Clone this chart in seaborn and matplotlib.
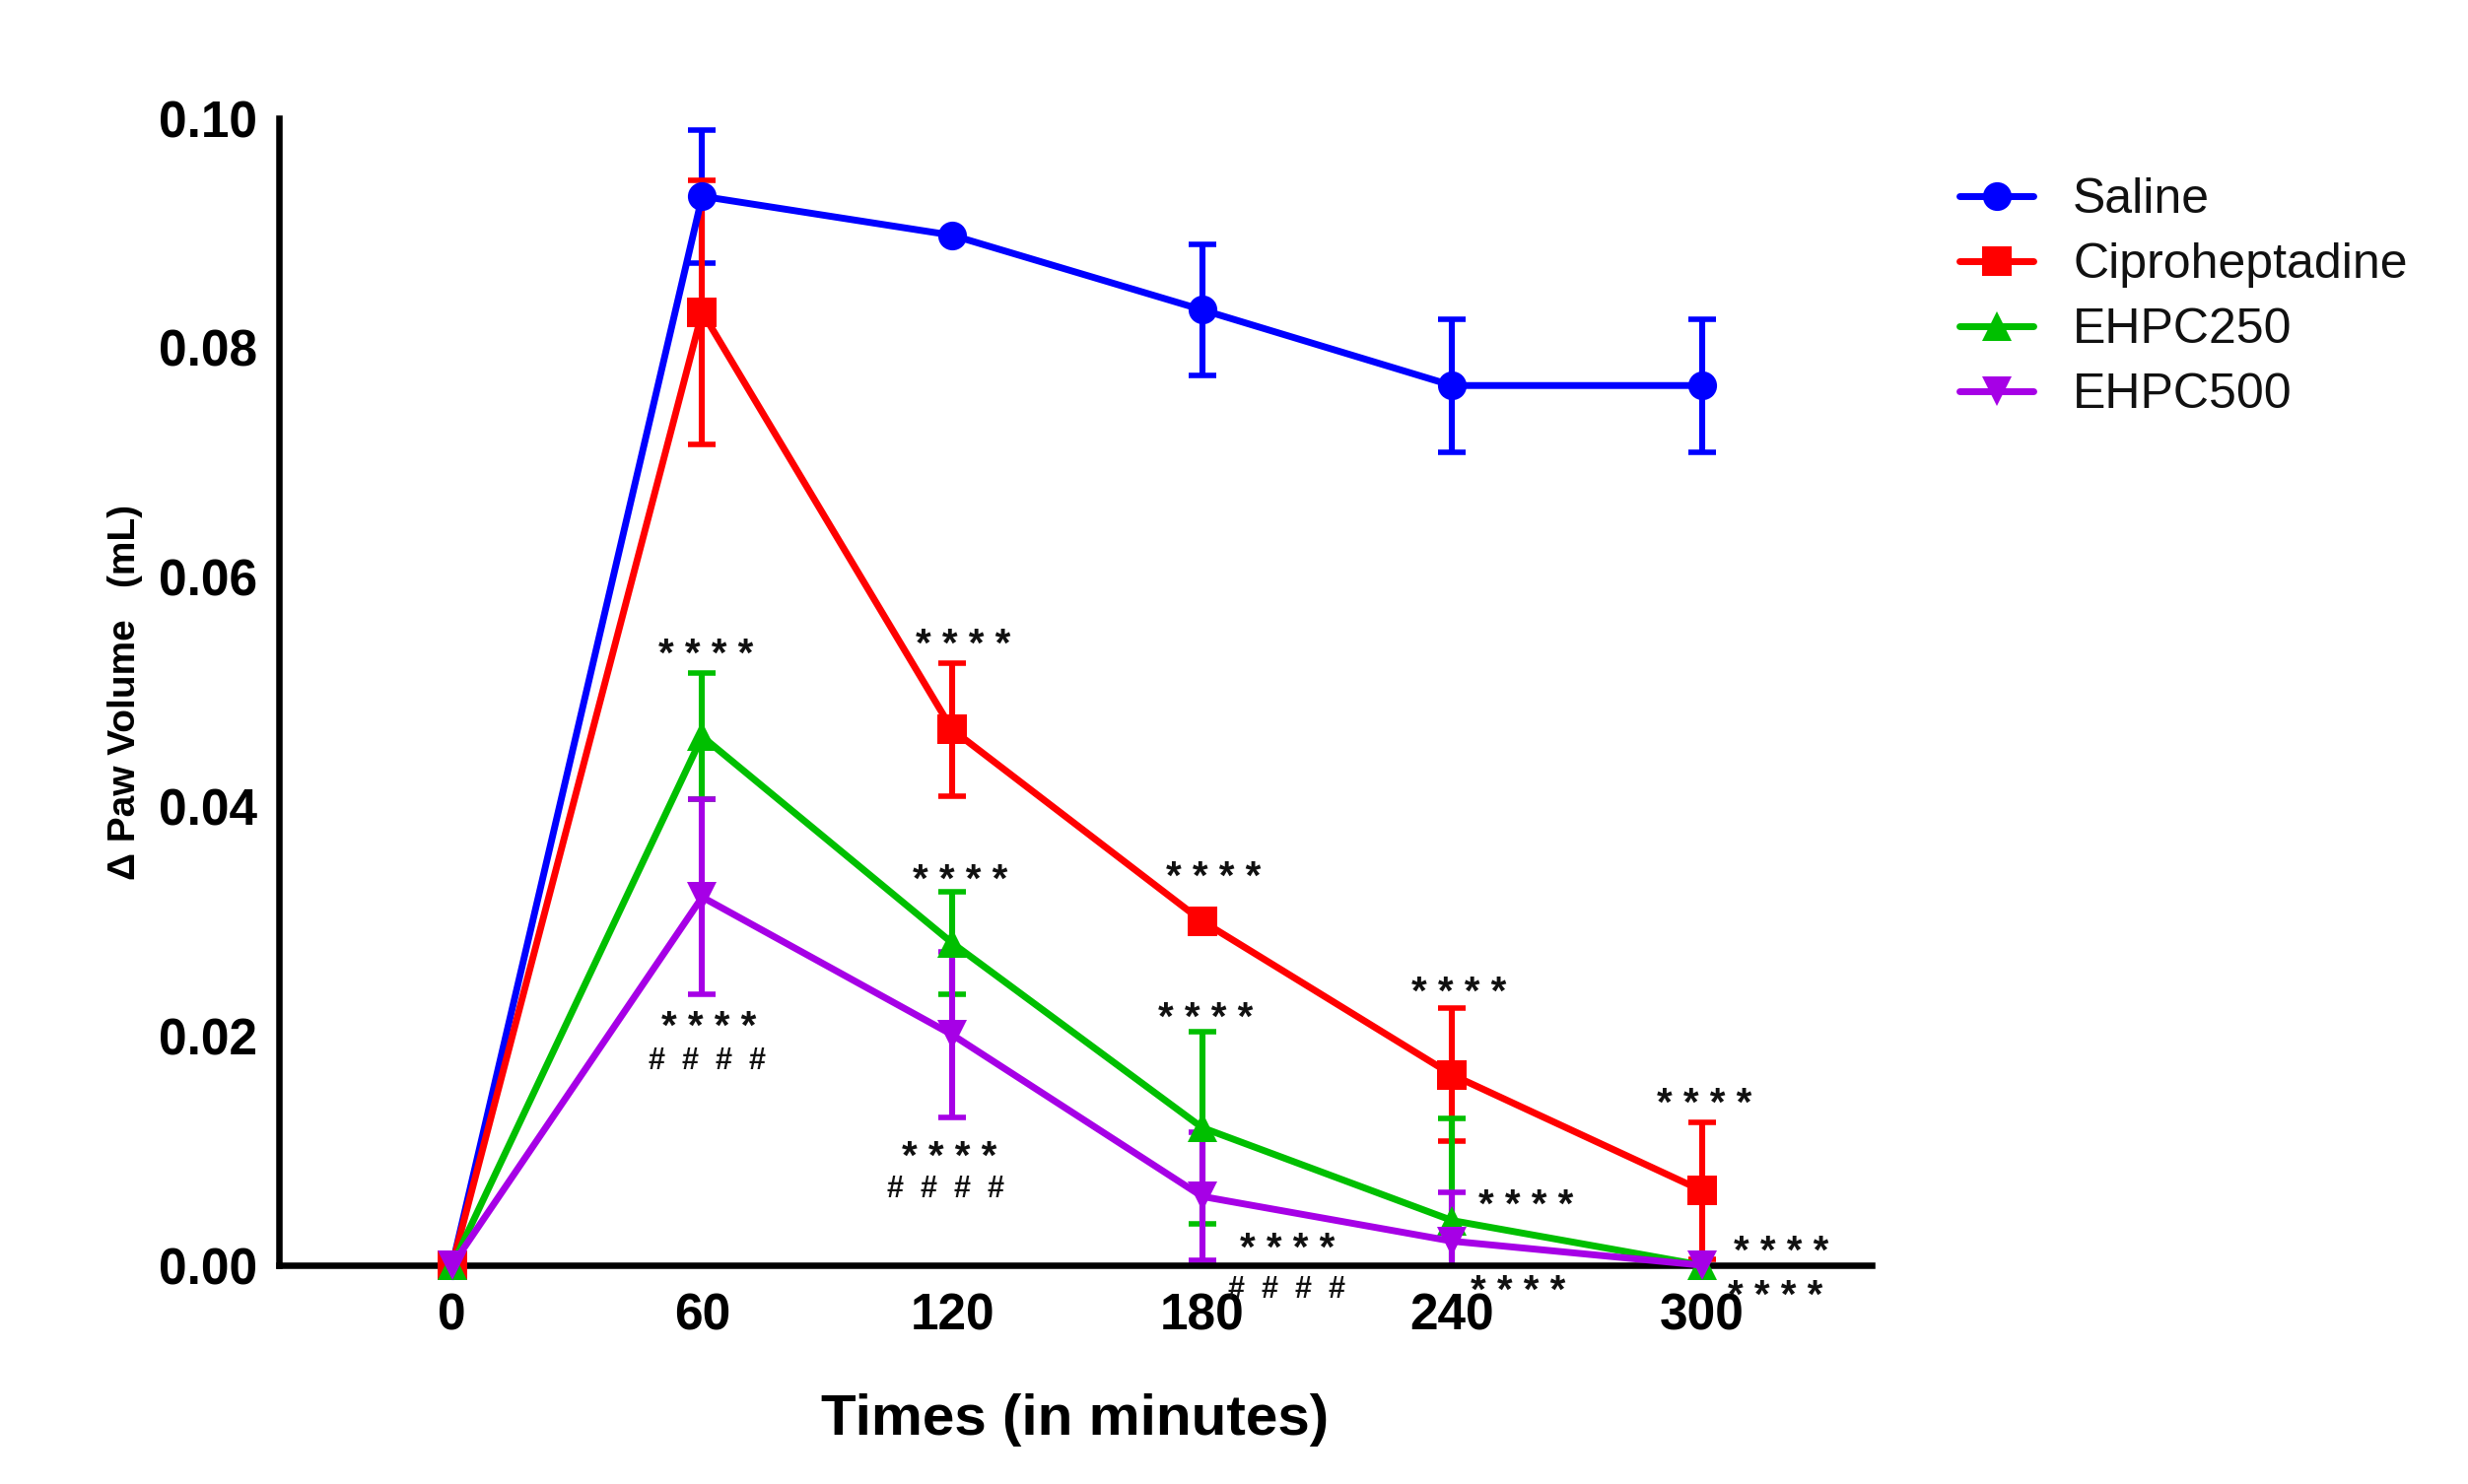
import numpy as np
import pandas as pd
import matplotlib
matplotlib.use("Agg")
import matplotlib.pyplot as plt
from matplotlib.lines import Line2D
from matplotlib.ticker import FormatStrFormatter
import seaborn as sns

# ---------------- data ----------------
times = [0, 60, 120, 180, 240, 300]
groups = ["Saline", "Ciproheptadine", "EHPC250", "EHPC500"]

saline_mean = [0.0, 0.0932, 0.0898, 0.0833, 0.0767, 0.0767]
saline_err = [0.0, 0.0058, 0.0, 0.0057, 0.0058, 0.0058]

cipro_mean = [0.0, 0.0831, 0.0467, 0.0300, 0.0166, 0.0065]
cipro_err = [0.0, 0.0115, 0.0058, 0.0, 0.0058, 0.0060]

ehpc250_mean = [0.0, 0.0461, 0.0281, 0.0120, 0.0039, 0.0]
ehpc250_err = [0.0, 0.0055, 0.0045, 0.0084, 0.0089, 0.0]

ehpc500_mean = [0.0, 0.0321, 0.0201, 0.0060, 0.0021, 0.0]
ehpc500_err = [0.0, 0.0085, 0.0072, 0.0056, 0.0043, 0.0]

x_ticks = [0, 60, 120, 180, 240, 300]
y_ticks = [0.00, 0.02, 0.04, 0.06, 0.08, 0.10]

# significance annotations: (text, x, y-baseline)
annot_text = ["* * * *", "* * * *", "* * * *", "* * * *", "* * * *", "#  #  #  #",
              "* * * *", "* * * *", "* * * *", "#  #  #  #", "* * * *",
              "* * * *", "* * * *", "#  #  #  #", "* * * *", "* * * *", "* * * *"]
annot_x = [61, 122.6, 121.9, 182.6, 61.5, 61.2,
           180.8, 241.5, 119.2, 118.5, 300.6,
           257.8, 200.4, 200.4, 255.7, 319, 317.6]
annot_y = [0.0522, 0.0531, 0.0326, 0.0328, 0.0198, 0.0171,
           0.0205, 0.0228, 0.0084, 0.0059, 0.0131,
           0.0042, 0.0004, -0.0028, -0.0033, 0.0002, -0.0037]

colors = {"Saline": "#0000FF", "Ciproheptadine": "#FF0000",
          "EHPC250": "#00BF00", "EHPC500": "#A600E6"}
markers = {"Saline": "o", "Ciproheptadine": "s", "EHPC250": "^", "EHPC500": "v"}

means = {"Saline": saline_mean, "Ciproheptadine": cipro_mean,
         "EHPC250": ehpc250_mean, "EHPC500": ehpc500_mean}
errs = {"Saline": saline_err, "Ciproheptadine": cipro_err,
        "EHPC250": ehpc250_err, "EHPC500": ehpc500_err}

rows = []
for g in groups:
    for t, m, e in zip(times, means[g], errs[g]):
        rows.append({"time": t, "value": m, "err": e, "group": g})
df = pd.DataFrame(rows)

# ---------------- style ----------------
sns.set_theme(style="white")
plt.rcParams["font.family"] = ["Liberation Sans", "DejaVu Sans"]

fig = plt.figure(figsize=(25.04, 15.06), dpi=100)
ax = fig.add_axes([0.1130, 0.1474, 0.6454, 0.7729])

# error bars first (clipped at axis)
for g in groups:
    sub = df[(df["group"] == g) & (df["err"] > 0)]
    ax.errorbar(sub["time"], sub["value"], yerr=sub["err"], fmt="none",
                ecolor=colors[g], elinewidth=4.4, capsize=10, capthick=4.0,
                zorder=2)

sns.lineplot(data=df, x="time", y="value", hue="group", style="group",
             hue_order=groups, style_order=groups,
             palette=colors, markers=markers, dashes=False,
             markersize=21, linewidth=5.0, markeredgewidth=0,
             errorbar=None, legend=False, ax=ax, clip_on=False, zorder=3,
             sort=False)

for t, x, y in zip(annot_text, annot_x, annot_y):
    if "*" in t:
        ax.text(x, y, t, ha="center", va="baseline", fontsize=29,
                fontweight="bold", color="#111111")
    else:
        ax.text(x, y, t, ha="center", va="baseline", fontsize=22,
                fontweight="bold", color="#111111")

ax.set_xlim(-41.6, 340.7)
ax.set_ylim(0, 0.10)
ax.set_xticks(x_ticks)
ax.set_yticks(y_ticks)
ax.yaxis.set_major_formatter(FormatStrFormatter("%.2f"))

for side in ["top", "right"]:
    ax.spines[side].set_visible(False)
for side in ["left", "bottom"]:
    ax.spines[side].set_linewidth(4.7)
    ax.spines[side].set_color("black")

ax.tick_params(axis="both", which="major", direction="out", length=11, width=3.8,
               color="black", labelsize=37, labelcolor="black")
ax.tick_params(axis="y", pad=5)
ax.tick_params(axis="x", pad=9)
for lab in ax.get_xticklabels() + ax.get_yticklabels():
    lab.set_fontweight("bold")

ax.set_xlabel("Times (in minutes)", fontsize=42, fontweight="bold", va="center",
              color="black")
ax.xaxis.set_label_coords(0.5, -0.135)
ax.set_ylabel("\u0394 Paw Volume   (mL)", fontsize=28, fontweight="bold", va="center",
              color="black")
ax.yaxis.set_label_coords(-0.0967, 0.5)

handles = [Line2D([0], [0], color=colors[g], marker=markers[g], markersize=21,
                  linewidth=5, markeredgewidth=0) for g in groups]
fig.legend(handles, groups, loc="upper left",
           bbox_to_anchor=(1988 / 2504, 1 - 180 / 1506),
           bbox_transform=fig.transFigure, frameon=False, fontsize=36,
           handlelength=1.5, handletextpad=0.8, labelspacing=0.4,
           borderpad=0, borderaxespad=0, labelcolor="#111111")

fig.savefig("out.png", dpi=100, facecolor="white")
